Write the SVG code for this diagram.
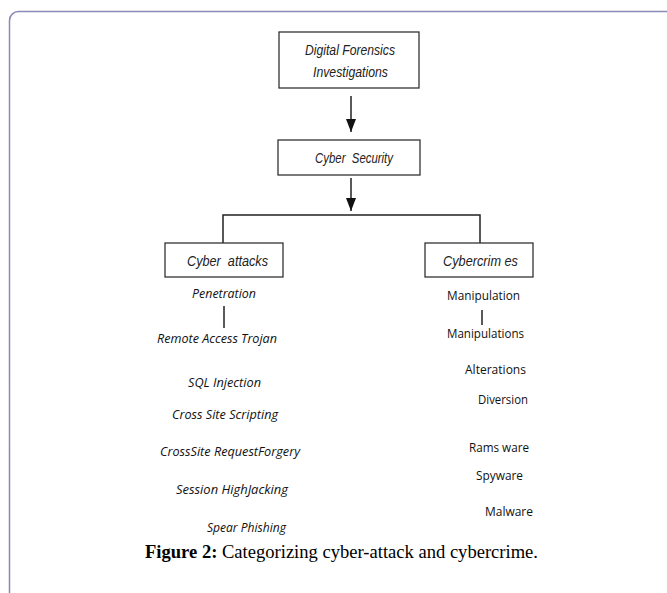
<svg xmlns="http://www.w3.org/2000/svg" width="667" height="593" viewBox="0 0 667 593">
<style>
.frame{fill:#fff;stroke:#8a8ab8;stroke-width:1.5}
.box{fill:#fff;stroke:#333;stroke-width:1.3}
.bt{font-family:"Liberation Sans",Arial,sans-serif;font-style:italic;font-size:15px;fill:#222;text-anchor:start;white-space:pre}
.lt{font-family:"Open Sans","Liberation Sans",sans-serif;font-style:italic;font-size:13.5px;font-weight:500;fill:#111;text-anchor:start}
.rt{font-family:"Open Sans","Liberation Sans",sans-serif;font-size:13.5px;font-weight:500;fill:#111;text-anchor:start}
.ln{stroke:#222;stroke-width:1.5;fill:none}
.cap{font-family:"Liberation Serif","Times New Roman",serif;font-size:18px;fill:#000}
</style>
<defs>
<marker id="ah" markerWidth="13" markerHeight="10" refX="13" refY="5" orient="auto" markerUnits="userSpaceOnUse" viewBox="0 0 13 10">
<path d="M0,0 L13,5 L0,10 Z" fill="#111"/>
</marker>
</defs>
<rect class="frame" x="9.5" y="11.5" width="700" height="640" rx="9"/>
<g id="connectors">
<line class="ln" x1="351" y1="96" x2="351" y2="132" marker-end="url(#ah)"/>
<line class="ln" x1="351" y1="178" x2="351" y2="211" marker-end="url(#ah)"/>
<polyline class="ln" points="223,243 223,215 480,215 480,243"/>
<line class="ln" x1="224" y1="306" x2="224" y2="328"/>
<line class="ln" x1="482" y1="310" x2="482" y2="325"/>
</g>
<g id="n-dfi">
<rect class="box" x="279" y="32" width="140" height="56"/>
<text class="bt" x="305" y="55" textLength="90" lengthAdjust="spacingAndGlyphs">Digital Forensics</text>
<text class="bt" x="313" y="77" textLength="75" lengthAdjust="spacingAndGlyphs">Investigations</text>
</g>
<g id="n-cs">
<rect class="box" x="278" y="140" width="142" height="35"/>
<text class="bt" x="315" y="163" textLength="78" lengthAdjust="spacingAndGlyphs" xml:space="preserve">Cyber  Security</text>
</g>
<g id="n-ca">
<rect class="box" x="165" y="243" width="118" height="34"/>
<text class="bt" x="187" y="266" textLength="81" lengthAdjust="spacingAndGlyphs" xml:space="preserve">Cyber  attacks</text>
</g>
<g id="n-cc">
<rect class="box" x="425" y="243" width="108" height="34"/>
<text class="bt" x="443" y="266" textLength="75" lengthAdjust="spacingAndGlyphs">Cybercrim es</text>
</g>
<g id="attacks">
<text class="lt" x="192" y="298" textLength="64" lengthAdjust="spacingAndGlyphs">Penetration</text>
<text class="lt" x="157" y="343" textLength="120" lengthAdjust="spacingAndGlyphs">Remote Access Trojan</text>
<text class="lt" x="188" y="387" textLength="73" lengthAdjust="spacingAndGlyphs">SQL Injection</text>
<text class="lt" x="172" y="419" textLength="106" lengthAdjust="spacingAndGlyphs">Cross Site Scripting</text>
<text class="lt" x="160" y="456" textLength="140" lengthAdjust="spacingAndGlyphs">CrossSite RequestForgery</text>
<text class="lt" x="176" y="494" textLength="112" lengthAdjust="spacingAndGlyphs">Session HighJacking</text>
<text class="lt" x="207" y="532" textLength="79" lengthAdjust="spacingAndGlyphs">Spear Phishing</text>
</g>
<g id="crimes">
<text class="rt" x="447" y="300" textLength="73" lengthAdjust="spacingAndGlyphs">Manipulation</text>
<text class="rt" x="447" y="338" textLength="77" lengthAdjust="spacingAndGlyphs">Manipulations</text>
<text class="rt" x="465" y="374" textLength="61" lengthAdjust="spacingAndGlyphs">Alterations</text>
<text class="rt" x="478" y="404" textLength="50" lengthAdjust="spacingAndGlyphs">Diversion</text>
<text class="rt" x="469" y="452" textLength="60" lengthAdjust="spacingAndGlyphs">Rams ware</text>
<text class="rt" x="476" y="480" textLength="47" lengthAdjust="spacingAndGlyphs">Spyware</text>
<text class="rt" x="485" y="516" textLength="48" lengthAdjust="spacingAndGlyphs">Malware</text>
</g>
<text class="cap" x="145" y="558" textLength="393" lengthAdjust="spacingAndGlyphs"><tspan font-weight="bold">Figure 2:</tspan> Categorizing cyber-attack and cybercrime.</text>
</svg>
